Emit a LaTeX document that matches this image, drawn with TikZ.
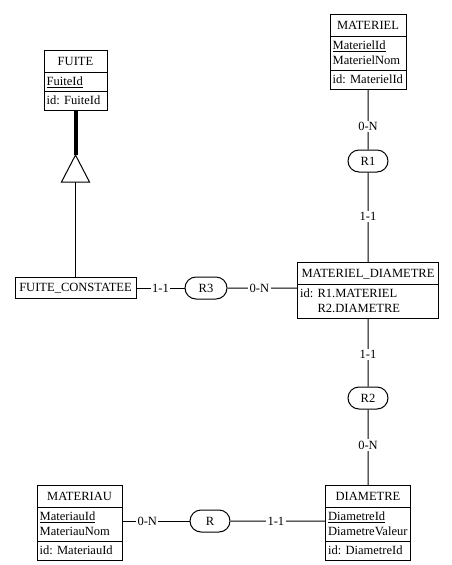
\documentclass[tikz,border=0pt]{standalone}
\usepackage{fontspec}
\setmainfont{Liberation Serif}
\usetikzlibrary{shapes.multipart,shapes.misc,positioning}
\newcommand{\attstrut}{\vrule height 7.6pt depth 2.4pt width 0pt}
\newcommand{\ttlstrut}{\vrule height 8.8pt depth 3.4pt width 0pt}
\tikzset{
  entity/.style={rectangle split,rectangle split parts=3,draw,line width=0.75pt,
    rectangle split part align={center,left,left},align=left,
    inner xsep=2pt,inner ysep=1.75pt,anchor=north,font=\fontsize{9.4}{11.25}\selectfont},
  plainentity/.style={draw,line width=0.75pt,inner xsep=2pt,inner ysep=1.75pt,
    font=\fontsize{9.4}{11.25}\selectfont},
  rel/.style={rounded rectangle,draw,line width=0.75pt,minimum height=16.5pt,
    inner sep=0pt,font=\fontsize{9.4}{11.25}\selectfont},
  card/.style={fill=white,inner sep=1pt,font=\fontsize{9.4}{11.25}\selectfont},
  link/.style={draw,line width=0.75pt},
  isaline/.style={draw,line width=3pt}
}
\begin{document}
\begin{tikzpicture}[x=0.75pt,y=-0.75pt]
\path[use as bounding box,fill=white] (0,0) rectangle (451,565);

% entities
\node[entity,minimum width=47.25pt] (fuite) at (75.5,50)
  {\ttlstrut FUITE\nodepart{two}\attstrut\underline{FuiteId}\nodepart{three}\attstrut id: FuiteId};
\node[entity,minimum width=57pt] (materiel) at (368,14)
  {\ttlstrut MATERIEL\nodepart{two}\attstrut\underline{MaterielId}\\\attstrut MaterielNom\nodepart{three}\attstrut id: MaterielId};
\node[entity,rectangle split parts=2,minimum width=105.75pt] (matdiam) at (368,262)
  {\ttlstrut MATERIEL\_DIAMETRE\nodepart{two}\attstrut id: R1.MATERIEL\\\attstrut\phantom{id: }R2.DIAMETRE};
\node[entity,minimum width=63.75pt] (materiau) at (79.5,485)
  {\ttlstrut MATERIAU\nodepart{two}\attstrut\underline{MateriauId}\\\attstrut MateriauNom\nodepart{three}\attstrut id: MateriauId};
\node[entity,minimum width=63.75pt] (diametre) at (368,485)
  {\ttlstrut DIAMETRE\nodepart{two}\attstrut\underline{DiametreId}\\\attstrut DiametreValeur\nodepart{three}\attstrut id: DiametreId};
\node[plainentity,minimum width=90.75pt,minimum height=15.75pt] (constatee) at (75.5,288) {FUITE\_CONSTATEE};

% relations
\node[rel,minimum width=30pt] (r1) at (368,161) {R1};
\node[rel,minimum width=30pt] (r2) at (368,398) {R2};
\node[rel,minimum width=31.5pt] (r3) at (206,288) {R3};
\node[rel,minimum width=30pt] (r) at (210,521) {R};

% is-a
\coordinate (isatop) at (75.5,155);
\coordinate (isabase) at (75.5,182);
\draw[link] (isatop) -- ++(-14,27) -- ++(28,0) -- cycle;
\draw[isaline] (fuite.south) -- (isatop);
\draw[link] (isabase) -- (constatee.north);

% links
\draw[link] (materiel.south) -- node[card,pos=0.62] {0-N} (r1);
\draw[link] (r1) -- node[card,pos=0.49] {1-1} (matdiam.north);
\draw[link] (matdiam.south) -- node[card,pos=0.53] {1-1} (r2);
\draw[link] (r2) -- node[card,pos=0.47] {0-N} (diametre.north);
\draw[link] (constatee) -- node[card] {1-1} (r3);
\draw[link] (r3) -- node[card,pos=0.46] {0-N} (r3 -| matdiam.west);
\draw[link] (r -| materiau.east) -- node[card,pos=0.37] {0-N} (r);
\draw[link] (r) -- node[card,pos=0.48] {1-1} (r -| diametre.west);
\end{tikzpicture}
\end{document}
